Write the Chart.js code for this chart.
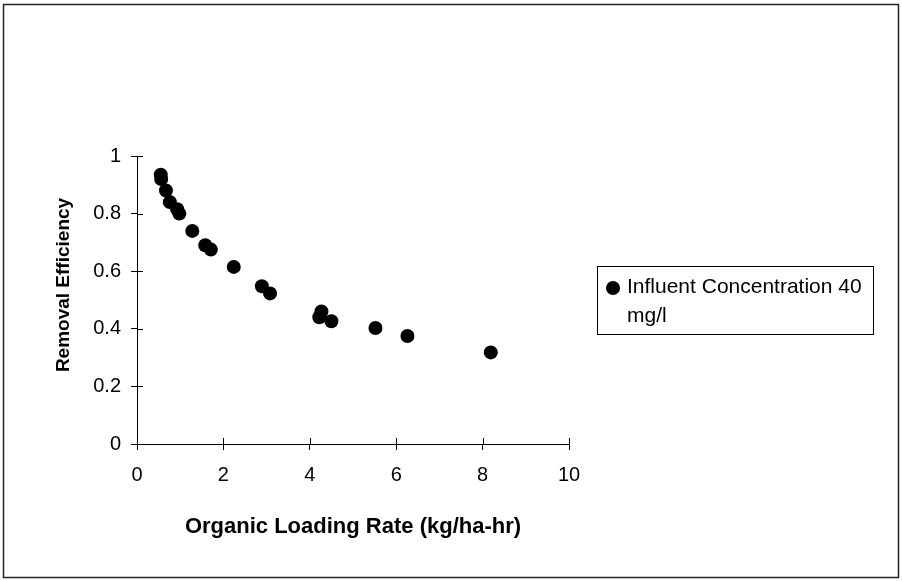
<!DOCTYPE html>
<html><head><meta charset="utf-8">
<script src="https://cdn.jsdelivr.net/npm/chart.js@4/dist/chart.umd.min.js"></script>
<style>html,body{margin:0;padding:0;background:#fff;}#wrap{width:902px;height:581px;position:relative;}canvas{display:block;}</style>
</head><body><div id="wrap"><canvas id="c" width="902" height="581"></canvas></div>
<script>
const loadingRate = [0.55, 0.56, 0.67, 0.76, 0.93, 0.98, 1.28, 1.58, 1.71, 2.24, 2.89, 3.08, 4.22, 4.27, 4.50, 5.52, 6.26, 8.19];
const removalEfficiency = [0.935, 0.92, 0.88, 0.84, 0.815, 0.80, 0.74, 0.69, 0.675, 0.615, 0.548, 0.523, 0.44, 0.46, 0.426, 0.403, 0.375, 0.318];
const seriesLabel = ['Influent Concentration 40', 'mg/l'];
const xTitle = 'Organic Loading Rate (kg/ha-hr)';
const yTitle = 'Removal Efficiency';
const xTickValues = [0, 2, 4, 6, 8, 10];
const yTickValues = [0, 0.2, 0.4, 0.6, 0.8, 1];

const points = loadingRate.map((x, i) => ({x: x, y: removalEfficiency[i]}));
const FONT = "'Liberation Sans', Arial, sans-serif";

const framePlugin = {
  id: 'frame',
  beforeDraw(chart) {
    const ctx = chart.ctx;
    ctx.save();
    ctx.fillStyle = '#fff';
    ctx.fillRect(0, 0, chart.width, chart.height);
    ctx.strokeStyle = '#222';
    ctx.lineWidth = 1.5;
    ctx.strokeRect(3.5, 4.5, chart.width - 7, chart.height - 8);
    ctx.restore();
  }
};

const innerTicksPlugin = {
  id: 'innerTicks',
  afterDraw(chart) {
    const ctx = chart.ctx;
    const xs = chart.scales.x, ys = chart.scales.y;
    ctx.save();
    ctx.strokeStyle = '#000';
    ctx.lineWidth = 1;
    ctx.beginPath();
    xs.ticks.forEach((t, i) => {
      const px = Math.round(xs.getPixelForTick(i)) + 0.5;
      ctx.moveTo(px, ys.bottom);
      ctx.lineTo(px, ys.bottom - 6);
    });
    ys.ticks.forEach((t, i) => {
      const py = Math.round(ys.getPixelForTick(i)) + 0.5;
      ctx.moveTo(xs.left, py);
      ctx.lineTo(xs.left + 6, py);
    });
    ctx.stroke();
    // y-axis title (slightly above the axis centre, as in the original)
    const cy = (ys.top + ys.bottom) / 2 - 15;
    ctx.translate(64, cy);
    ctx.rotate(-Math.PI / 2);
    ctx.fillStyle = '#000';
    ctx.font = 'bold 19px ' + FONT;
    ctx.textAlign = 'center';
    ctx.textBaseline = 'middle';
    ctx.fillText(yTitle, 0, 0);
    ctx.restore();
  }
};

const legendPlugin = {
  id: 'boxLegend',
  afterDraw(chart) {
    const ctx = chart.ctx;
    const area = chart.chartArea;
    const left = area.right + 28, top = 266, w = 276, h = 68;
    ctx.save();
    ctx.strokeStyle = '#000';
    ctx.lineWidth = 1;
    ctx.strokeRect(left + 0.5, top + 0.5, w, h);
    ctx.fillStyle = '#000';
    ctx.beginPath();
    ctx.arc(left + 16, top + 22, 7, 0, Math.PI * 2);
    ctx.fill();
    ctx.font = '21px ' + FONT;
    ctx.textBaseline = 'alphabetic';
    ctx.textAlign = 'left';
    seriesLabel.forEach((line, i) => {
      ctx.fillText(line, left + 30, top + 27 + i * 29);
    });
    ctx.restore();
  }
};

new Chart(document.getElementById('c'), {
  type: 'scatter',
  data: {
    datasets: [{
      label: seriesLabel.join(' '),
      data: points,
      backgroundColor: '#000',
      borderColor: '#000',
      pointRadius: 7,
      pointHoverRadius: 7,
      borderWidth: 0
    }]
  },
  options: {
    responsive: false,
    animation: false,
    devicePixelRatio: 1,
    layout: {padding: {left: 0, right: 333, top: 156, bottom: 0}},
    plugins: {legend: {display: false}, tooltip: {enabled: false}},
    scales: {
      x: {
        type: 'linear',
        min: 0, max: 10,
        afterBuildTicks: (s) => { s.ticks = xTickValues.map(v => ({value: v})); },
        afterFit: (s) => { s.height = 137; },
        ticks: {color: '#000', font: {family: FONT, size: 20}, padding: 13,
                callback: (v) => String(v)},
        grid: {drawOnChartArea: false, drawTicks: true, tickLength: 6, color: '#000', tickWidth: 1},
        border: {display: true, color: '#000', width: 1},
        title: {display: true, text: xTitle, color: '#000',
                font: {family: FONT, size: 22, weight: 'bold'}, padding: {top: 0, bottom: 41}}
      },
      y: {
        type: 'linear',
        min: 0, max: 1,
        afterBuildTicks: (s) => { s.ticks = yTickValues.map(v => ({value: v})); },
        afterFit: (s) => { s.width = 137; },
        ticks: {color: '#000', font: {family: FONT, size: 20}, padding: 10,
                callback: (v) => String(Math.round(v * 10) / 10)},
        grid: {drawOnChartArea: false, drawTicks: true, tickLength: 6, color: '#000', tickWidth: 1},
        border: {display: true, color: '#000', width: 1},
        title: {display: false}
      }
    }
  },
  plugins: [framePlugin, innerTicksPlugin, legendPlugin]
});
</script>
</body></html>
